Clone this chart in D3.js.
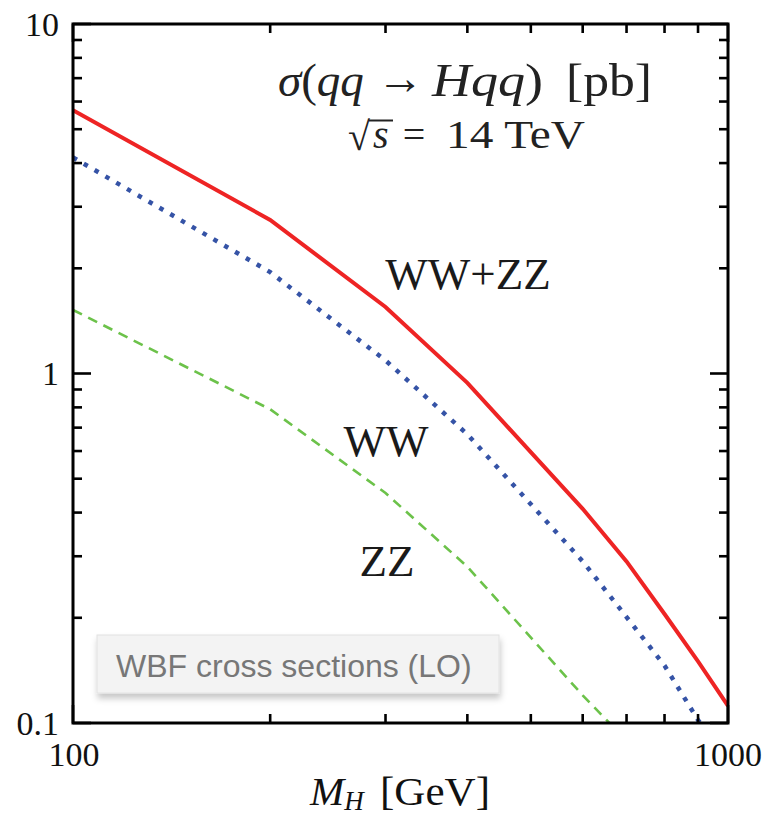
<!DOCTYPE html>
<html><head><meta charset="utf-8">
<script src="https://cdn.jsdelivr.net/npm/d3@7"></script>
<style>body{margin:0;background:#fff}svg{display:block}</style>
</head><body><svg id="c" width="765" height="818"></svg>
<script>
// Data
const massWWZZ = [100, 200, 300, 400, 600, 700, 800, 900, 1000];
const sigmaWWZZ = [5.67, 2.75, 1.55, 0.94, 0.41, 0.29, 0.205, 0.15, 0.112];
const massWW = [100, 200, 300, 400, 600, 700, 800, 900, 1000];
const sigmaWW = [4.15, 1.95, 1.09, 0.67, 0.29, 0.201, 0.146, 0.102, 0.078];
const massZZ = [100, 200, 300, 400, 600, 700, 800];
const sigmaZZ = [1.52, 0.79, 0.455, 0.28, 0.12, 0.089, 0.06];
const xMajorTicks = [100, 1000];
const xMinorTicks = [200, 300, 400, 500, 600, 700, 800, 900];
const yMajorTicks = [0.1, 1, 10];
const yMinorTicks = [0.2,0.3,0.4,0.5,0.6,0.7,0.8,0.9,2,3,4,5,6,7,8,9];
const xTickLabels = ["100", "1000"];
const yTickLabels = ["0.1", "1", "10"];

const svg = d3.select("#c");
const L = 73, R = 728, T = 24, B = 723;
const x = d3.scaleLog().domain([100, 1000]).range([L, R]);
const y = d3.scaleLog().domain([0.1, 10]).range([B, T]);

const defs = svg.append("defs");
defs.append("clipPath").attr("id", "clip")
  .append("rect").attr("x", L).attr("y", T).attr("width", R - L).attr("height", B - T);
const shadow = defs.append("filter").attr("id", "sh")
  .attr("x", "-10%").attr("y", "-30%").attr("width", "120%").attr("height", "170%");
shadow.append("feDropShadow").attr("dx", 1).attr("dy", 5).attr("stdDeviation", 3)
  .attr("flood-color", "#000").attr("flood-opacity", 0.22);

const serif = "'Liberation Serif', 'Times New Roman', serif";
const line = d3.line().x(d => x(d[0])).y(d => y(d[1]));
const g = svg.append("g").attr("clip-path", "url(#clip)");

g.append("path").datum(d3.zip(massZZ, sigmaZZ)).attr("d", line)
  .attr("fill", "none").attr("stroke", "#6cc24a").attr("stroke-width", 2.6)
  .attr("stroke-dasharray", "10,7");
g.append("path").datum(d3.zip(massWW, sigmaWW)).attr("d", line)
  .attr("fill", "none").attr("stroke", "#3553a6").attr("stroke-width", 4.5)
  .attr("stroke-dasharray", "4.5,8");
g.append("path").datum(d3.zip(massWWZZ, sigmaWWZZ)).attr("d", line)
  .attr("fill", "none").attr("stroke", "#ee2424").attr("stroke-width", 4);

// Frame
svg.append("rect").attr("x", L).attr("y", T).attr("width", R - L).attr("height", B - T)
  .attr("fill", "none").attr("stroke", "#000").attr("stroke-width", 3);

const tk = svg.append("g").attr("stroke", "#000").attr("stroke-width", 2.6);
const major = 18, minor = 9;
xMajorTicks.forEach(v => {
  tk.append("line").attr("x1", x(v)).attr("x2", x(v)).attr("y1", B).attr("y2", B - major);
  tk.append("line").attr("x1", x(v)).attr("x2", x(v)).attr("y1", T).attr("y2", T + major);
});
xMinorTicks.forEach(v => {
  tk.append("line").attr("x1", x(v)).attr("x2", x(v)).attr("y1", B).attr("y2", B - minor);
  tk.append("line").attr("x1", x(v)).attr("x2", x(v)).attr("y1", T).attr("y2", T + minor);
});
yMajorTicks.forEach(v => {
  tk.append("line").attr("y1", y(v)).attr("y2", y(v)).attr("x1", L).attr("x2", L + major);
  tk.append("line").attr("y1", y(v)).attr("y2", y(v)).attr("x1", R).attr("x2", R - major);
});
yMinorTicks.forEach(v => {
  tk.append("line").attr("y1", y(v)).attr("y2", y(v)).attr("x1", L).attr("x2", L + minor);
  tk.append("line").attr("y1", y(v)).attr("y2", y(v)).attr("x1", R).attr("x2", R - minor);
});

// Tick labels
const lab = svg.append("g").attr("font-family", serif).attr("font-size", 34).attr("fill", "#111");
yMajorTicks.forEach((v, i) => {
  lab.append("text").attr("x", 59).attr("y", y(v)).attr("dy", "0.35em")
    .attr("text-anchor", "end").text(yTickLabels[i]);
});
lab.append("text").attr("x", x(xMajorTicks[0]) + 1).attr("y", 766).attr("text-anchor", "middle").text(xTickLabels[0]);
lab.append("text").attr("x", 762).attr("y", 766).attr("text-anchor", "end").text(xTickLabels[1]);

// Axis title
const at = svg.append("g").attr("font-family", serif).attr("fill", "#111");
const m = at.append("text").attr("x", 310).attr("y", 805).attr("font-size", 41);
m.append("tspan").attr("font-style", "italic").text("M");
m.append("tspan").attr("font-style", "italic").attr("font-size", 27).attr("dy", 5).text("H");
at.append("text").attr("x", 380).attr("y", 805).attr("font-size", 40)
  .attr("textLength", 110).attr("lengthAdjust", "spacingAndGlyphs").text("[GeV]");

// Title pieces
const tg = svg.append("g").attr("font-family", serif).attr("fill", "#222").attr("font-size", 47);
const p1 = tg.append("text").attr("x", 278).attr("y", 96);
p1.append("tspan").attr("font-style", "italic").text("σ");
p1.append("tspan").text("(");
p1.append("tspan").attr("font-style", "italic").text("qq");
tg.append("text").attr("x", 400).attr("y", 94).attr("text-anchor", "middle").text("→");
const p2 = tg.append("text").attr("x", 432).attr("y", 96)
  .attr("textLength", 111).attr("lengthAdjust", "spacingAndGlyphs");
p2.append("tspan").attr("font-style", "italic").text("Hqq");
p2.append("tspan").text(")");
tg.append("text").attr("x", 566).attr("y", 96)
  .attr("textLength", 86).attr("lengthAdjust", "spacingAndGlyphs").text("[pb]");

// sqrt(s) = 14 TeV
const sg = svg.append("g").attr("font-family", serif).attr("fill", "#222").attr("font-size", 40);
sg.append("text").attr("x", 348).attr("y", 150).text("√");
sg.append("text").attr("x", 373).attr("y", 148).attr("font-style", "italic").text("s");
sg.append("line").attr("x1", 369).attr("x2", 393).attr("y1", 120.5).attr("y2", 120.5)
  .attr("stroke", "#222").attr("stroke-width", 2);
sg.append("text").attr("x", 414).attr("y", 148).attr("text-anchor", "middle").text("=");
sg.append("text").attr("x", 446).attr("y", 148)
  .attr("textLength", 139).attr("lengthAdjust", "spacingAndGlyphs").text("14 TeV");

// Curve labels
const cl = svg.append("g").attr("font-family", serif).attr("font-size", 45).attr("fill", "#1a1a1a");
cl.append("text").attr("x", 468).attr("y", 289).attr("text-anchor", "middle").text("WW+ZZ");
cl.append("text").attr("x", 386).attr("y", 456).attr("text-anchor", "middle").text("WW");
cl.append("text").attr("x", 387).attr("y", 576).attr("text-anchor", "middle").text("ZZ");

// Box
svg.append("rect").attr("x", 97).attr("y", 635).attr("width", 402).attr("height", 58)
  .attr("fill", "#f3f3f3").attr("stroke", "#e2e2e2").attr("stroke-width", 1)
  .attr("filter", "url(#sh)");
svg.append("text").attr("x", 116).attr("y", 677).attr("font-family", "'Liberation Sans', Arial, sans-serif")
  .attr("font-size", 32).attr("fill", "#777").text("WBF cross sections (LO)");
</script></body></html>
